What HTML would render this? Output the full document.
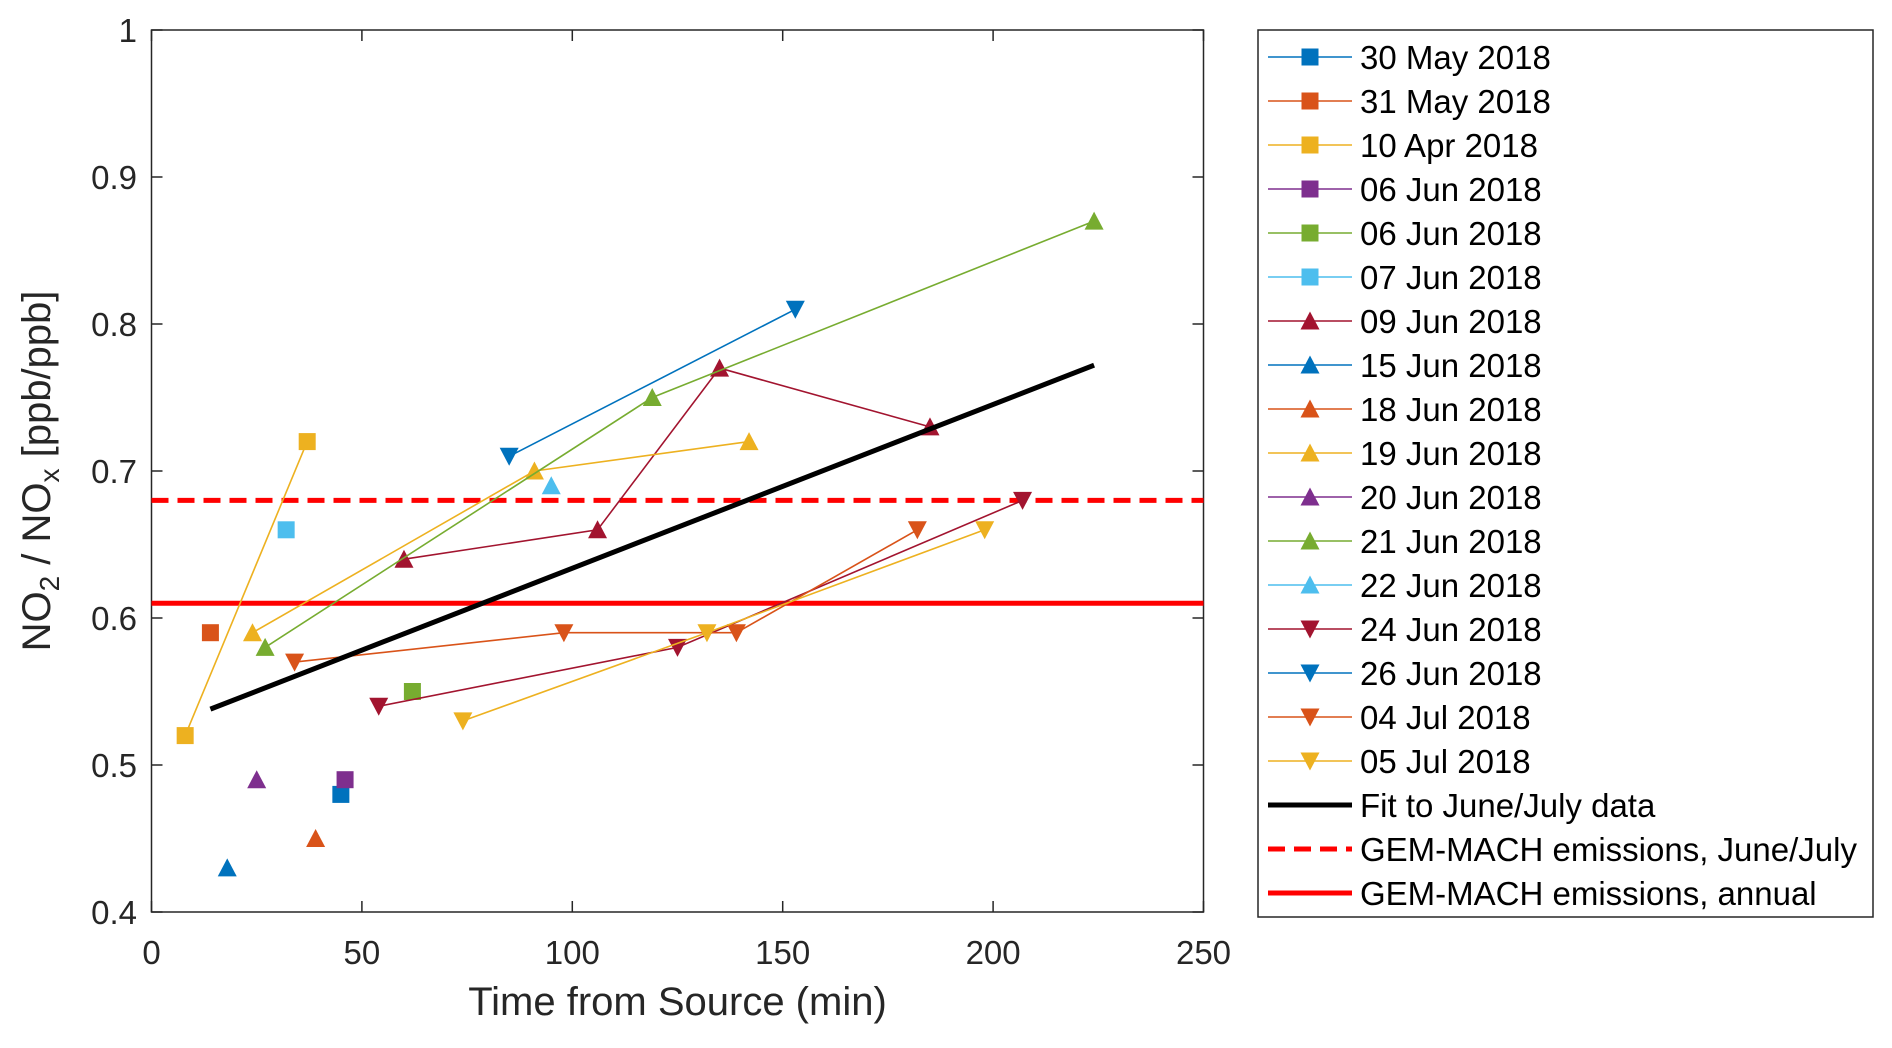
<!DOCTYPE html>
<html><head><meta charset="utf-8"><style>
body{margin:0;background:#fff;}
svg text{font-family:"Liberation Sans",Arial,sans-serif;}
</style></head><body>
<svg id="chart" width="1892" height="1043" xmlns="http://www.w3.org/2000/svg">
<rect x="0" y="0" width="1892" height="1043" fill="#fff"/>
<g id="plot"></g>
<g id="legend"></g>
</svg>
<script>
const xTicks=[0,50,100,150,200,250];
const yTicks=[0.4,0.5,0.6,0.7,0.8,0.9,1];
const yTickLabels=['0.4','0.5','0.6','0.7','0.8','0.9','1'];
const seriesNames=['30 May 2018','31 May 2018','10 Apr 2018','06 Jun 2018','06 Jun 2018','07 Jun 2018','09 Jun 2018','15 Jun 2018','18 Jun 2018','19 Jun 2018','20 Jun 2018','21 Jun 2018','22 Jun 2018','24 Jun 2018','26 Jun 2018','04 Jul 2018','05 Jul 2018'];
const seriesColors=['#0072BD','#D95319','#EDB120','#7E2F8E','#77AC30','#4DBEEE','#A2142F','#0072BD','#D95319','#EDB120','#7E2F8E','#77AC30','#4DBEEE','#A2142F','#0072BD','#D95319','#EDB120'];
const seriesMarkers=['s','s','s','s','s','s','^','^','^','^','^','^','^','v','v','v','v'];
const seriesX=[[45],[14],[8,37],[46],[62],[32],[60,106,135,185],[18],[39],[24,91,142],[25],[27,119,224],[95],[54,125,207],[85,153],[34,98,139,182],[74,132,198]];
const seriesY=[[0.48],[0.59],[0.52,0.72],[0.49],[0.55],[0.66],[0.64,0.66,0.77,0.73],[0.43],[0.45],[0.59,0.70,0.72],[0.49],[0.58,0.75,0.87],[0.69],[0.54,0.58,0.68],[0.71,0.81],[0.57,0.59,0.59,0.66],[0.53,0.59,0.66]];
const fitX=[14,224];
const fitY=[0.538,0.772];
const gemJuneJuly=0.68;
const gemAnnual=0.61;

const L=151.5,R=1203.5,T=30,B=912;
const X0=0,X1=250,Y0=0.4,Y1=1;
const sx=v=>L+(v-X0)/(X1-X0)*(R-L);
const sy=v=>B-(v-Y0)/(Y1-Y0)*(B-T);
const NS='http://www.w3.org/2000/svg';
const plot=document.getElementById('plot');
const leg=document.getElementById('legend');
function mk(tag,attrs,parent){const e=document.createElementNS(NS,tag);for(const k in attrs)e.setAttribute(k,attrs[k]);parent.appendChild(e);return e;}
function marker(type,cx,cy,color,parent){
  const s=8.5;
  if(type==='s') return mk('rect',{x:cx-s,y:cy-s,width:2*s,height:2*s,fill:color},parent);
  if(type==='^') return mk('polygon',{points:`${cx},${cy-s-1} ${cx+s+1},${cy+s} ${cx-s-1},${cy+s}`,fill:color},parent);
  return mk('polygon',{points:`${cx},${cy+s+1} ${cx+s+1},${cy-s} ${cx-s-1},${cy-s}`,fill:color},parent);
}
const box=mk('rect',{x:L,y:T,width:R-L,height:B-T,fill:'none',stroke:'#262626','stroke-width':1.5},plot);


xTicks.forEach(v=>{
  const x=sx(v);
  const t1=mk('line',{x1:x,y1:B,x2:x,y2:B-11,stroke:'#262626','stroke-width':1.5},plot);
  
  
  mk('line',{x1:x,y1:T,x2:x,y2:T+11,stroke:'#262626','stroke-width':1.5},plot);
  const tx=mk('text',{x:x,y:964,'font-size':33,'text-anchor':'middle',fill:'#262626'},plot);
  tx.textContent=v;
  
  
});
yTicks.forEach((v,i)=>{
  const y=sy(v);
  const t1=mk('line',{x1:L,y1:y,x2:L+11,y2:y,stroke:'#262626','stroke-width':1.5},plot);
  
  
  mk('line',{x1:R,y1:y,x2:R-11,y2:y,stroke:'#262626','stroke-width':1.5},plot);
  const tx=mk('text',{x:137,y:y+12,'font-size':33,'text-anchor':'end',fill:'#262626'},plot);
  tx.textContent=yTickLabels[i];
  
  
});
const xl=mk('text',{x:(L+R)/2,y:1015,'font-size':40,'text-anchor':'middle',fill:'#262626'},plot);
xl.textContent='Time from Source (min)';


const yl=mk('text',{x:0,y:0,'font-size':40,'text-anchor':'middle',fill:'#262626',transform:`translate(50,${(T+B)/2}) rotate(-90)`},plot);
yl.innerHTML='NO<tspan font-size="28" dy="9">2</tspan><tspan dy="-9"> / NO</tspan><tspan font-size="28" dy="9">x</tspan><tspan dy="-9"> [ppb/ppb]</tspan>';


const dl=mk('line',{x1:L,y1:sy(gemJuneJuly),x2:R,y2:sy(gemJuneJuly),stroke:'#FF0000','stroke-width':5,'stroke-dasharray':'17 9'},plot);


const al=mk('line',{x1:L,y1:sy(gemAnnual),x2:R,y2:sy(gemAnnual),stroke:'#FF0000','stroke-width':5},plot);


seriesNames.forEach((n,i)=>{
  const g=mk('g',{},plot);
  
  
  if(seriesX[i].length>1){
    const pts=seriesX[i].map((x,j)=>sx(x)+','+sy(seriesY[i][j])).join(' ');
    const pl=mk('polyline',{points:pts,fill:'none',stroke:seriesColors[i],'stroke-width':1.6},g);
    
    
  }
  seriesX[i].forEach((x,j)=>{
    const m=marker(seriesMarkers[i],sx(x),sy(seriesY[i][j]),seriesColors[i],g);
    
    
  });
});
const fl=mk('line',{x1:sx(fitX[0]),y1:sy(fitY[0]),x2:sx(fitX[1]),y2:sy(fitY[1]),stroke:'#000','stroke-width':5},plot);


const lb=mk('rect',{x:1258,y:30,width:615,height:887,fill:'#fff',stroke:'#262626','stroke-width':1.5},leg);


const rowY=i=>57+i*44;
seriesNames.forEach((n,i)=>{
  const y=rowY(i);
  const g=mk('g',{},leg);
  
  
  mk('line',{x1:1268,y1:y,x2:1352,y2:y,stroke:seriesColors[i],'stroke-width':1.6},g);
  marker(seriesMarkers[i],1310,y,seriesColors[i],g);
  const t=mk('text',{x:1360,y:y+12,'font-size':33,fill:'#000'},g);
  t.textContent=n;
});
const extra=[['Fit to June/July data','#000',''],['GEM-MACH emissions, June/July','#FF0000','17 9'],['GEM-MACH emissions, annual','#FF0000','']];
extra.forEach((e,k)=>{
  const y=rowY(17+k);
  const g=mk('g',{},leg);
  
  
  const a={x1:1268,y1:y,x2:1352,y2:y,stroke:e[1],'stroke-width':5};
  if(e[2])a['stroke-dasharray']=e[2];
  mk('line',a,g);
  const t=mk('text',{x:1360,y:y+12,'font-size':33,fill:'#000'},g);
  t.textContent=e[0];
});
</script>
</body></html>
